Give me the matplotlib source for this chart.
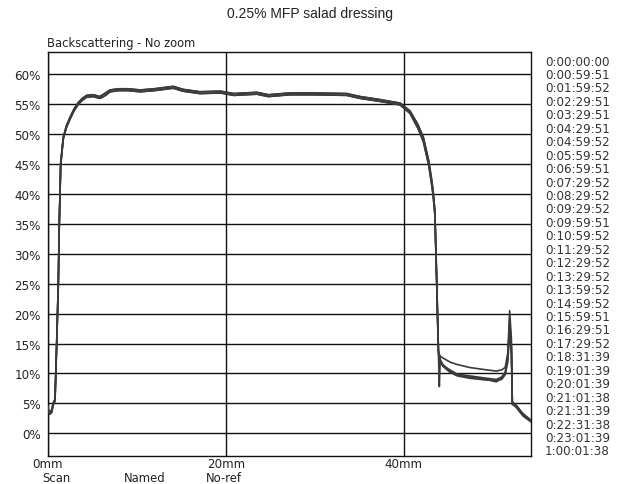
import numpy as np
import matplotlib
matplotlib.use("Agg")
import matplotlib.pyplot as plt

# Posições ao longo do tubo (mm) - parte comum das curvas
head_mm = [0.0, 0.07, 0.26, 0.45, 0.63, 0.82, 1.01, 1.19, 1.30, 1.46, 1.75, 2.1, 2.5,
           2.95, 3.44, 3.9, 4.38, 5.1, 5.88, 6.5, 7.0, 8.0, 9.0, 10.4, 12.0, 14.1,
           15.2, 17.1, 19.4, 20.9, 23.5, 24.8, 27.2, 29.8, 33.6, 35.1, 37.3, 39.6,
           40.7, 41.6, 42.2, 42.8, 43.1, 43.3, 43.5, 43.7, 43.9]

# Backscattering (%) - duas variantes do trecho inicial/platô
head_hi = [4.6, 4.0, 3.5, 3.9, 5.1, 5.7, 15.2, 25.2, 35.2, 45.2, 49.5, 51.4, 52.8,
           54.2, 55.3, 56.0, 56.5, 56.6, 56.3, 56.9, 57.4, 57.6, 57.6, 57.4, 57.6,
           58.0, 57.5, 57.1, 57.2, 56.8, 57.0, 56.6, 56.9, 56.9, 56.8, 56.3, 55.8,
           55.2, 53.9, 51.6, 49.5, 45.6, 42.8, 40.6, 37.2, 26.0, 13.8]
head_lo = [4.2, 3.6, 3.2, 3.5, 4.8, 5.4, 14.8, 24.6, 34.8, 44.8, 49.2, 51.1, 52.5,
           53.9, 55.0, 55.7, 56.2, 56.3, 56.0, 56.5, 57.1, 57.3, 57.3, 57.1, 57.3,
           57.7, 57.2, 56.8, 56.9, 56.5, 56.7, 56.3, 56.6, 56.6, 56.5, 56.0, 55.5,
           54.9, 53.5, 51.0, 48.8, 44.9, 42.0, 39.8, 36.6, 25.4, 13.3]

# Parte final (sedimento / topo)
tail_mm = [44.0, 44.1, 44.4, 45.2, 46.0, 47.4, 49.3, 50.4, 51.0, 51.4, 51.7, 51.9,
           52.1, 52.2, 52.7, 53.4, 54.3]
tail_a = [13.2, 12.9, 12.6, 11.9, 11.5, 11.0, 10.6, 10.4, 10.6, 11.0, 13.5, 20.5,
          15.7, 5.2, 4.6, 3.2, 2.1]
tail_b = [7.8, 12.2, 11.5, 10.4, 9.7, 9.4, 9.0, 8.6, 9.2, 10.0, 12.5, 19.0,
          14.0, 5.0, 4.2, 2.9, 1.9]
tail_c = [13.0, 12.0, 11.2, 10.2, 9.6, 9.2, 8.9, 8.8, 9.0, 9.8, 12.0, 17.5,
          13.0, 4.8, 4.4, 3.0, 2.0]
tail_d = [13.1, 12.4, 11.3, 10.6, 9.9, 9.6, 9.2, 9.0, 9.4, 10.2, 12.8, 18.5,
          14.5, 5.3, 4.5, 3.3, 2.2]

scan_times = ["0:00:00:00", "0:00:59:51", "0:01:59:52", "0:02:29:51", "0:03:29:51",
              "0:04:29:51", "0:04:59:52", "0:05:59:52", "0:06:59:51", "0:07:29:52",
              "0:08:29:52", "0:09:29:52", "0:09:59:51", "0:10:59:52", "0:11:29:52",
              "0:12:29:52", "0:13:29:52", "0:13:59:52", "0:14:59:52", "0:15:59:51",
              "0:16:29:51", "0:17:29:52", "0:18:31:39", "0:19:01:39", "0:20:01:39",
              "0:21:01:38", "0:21:31:39", "0:22:31:38", "0:23:01:39", "1:00:01:38"]

y_ticks = list(range(0, 61, 5))
x_ticks = [0, 20, 40]

W, H = 621, 485
fig = plt.figure(figsize=(W / 100, H / 100), dpi=100)
ax = fig.add_axes([47.7 / W, 1 - 457 / H, (531 - 47.7) / W, (457 - 53.3) / H])

curves = [(head_hi, tail_a), (head_lo, tail_b), (head_hi, tail_c), (head_lo, tail_d)]
for head, tail in curves:
    x = list(head_mm) + list(tail_mm)
    y = list(head) + list(tail)
    ax.plot(x, y, color="#3a3a3a", lw=1.2, zorder=3)

ax.set_xlim(0, 54.3)
ax.set_ylim(-3.8, 63.7)
ax.set_yticks(y_ticks)
ax.set_yticklabels([f"{v}%" for v in y_ticks])
ax.set_xticks(x_ticks)
ax.set_xticklabels([f"{v}mm" for v in x_ticks])
ax.tick_params(length=0, labelsize=8.6, colors="#222222")
ax.tick_params(axis="y", pad=5)
ax.tick_params(axis="x", pad=1)
ax.grid(True, color="#111111", lw=1.0)
ax.set_axisbelow(True)
for s in ax.spines.values():
    s.set_color("#111111")
    s.set_linewidth(1.0)

fig.text(310 / W, 1 - 14 / H, "0.25% MFP salad dressing", ha="center", va="center",
         family="Liberation Sans", fontsize=10, color="#222222")
fig.text(47 / W, 1 - 43 / H, "Backscattering - No zoom", ha="left", va="center",
         fontsize=8.3, color="#222222")

n = len(scan_times)
for i, t in enumerate(scan_times):
    yy = 62 + i * (452 - 62) / (n - 1)
    fig.text(545 / W, 1 - yy / H, t, ha="left", va="center", fontsize=8.6, color="#333333")

for label, xc in [("Scan", 56), ("Named", 145), ("No-ref", 224)]:
    fig.text(xc / W, 1 - 479 / H, label, ha="center", va="center", fontsize=8.4, color="#222222")

fig.savefig("out.png", dpi=100)
